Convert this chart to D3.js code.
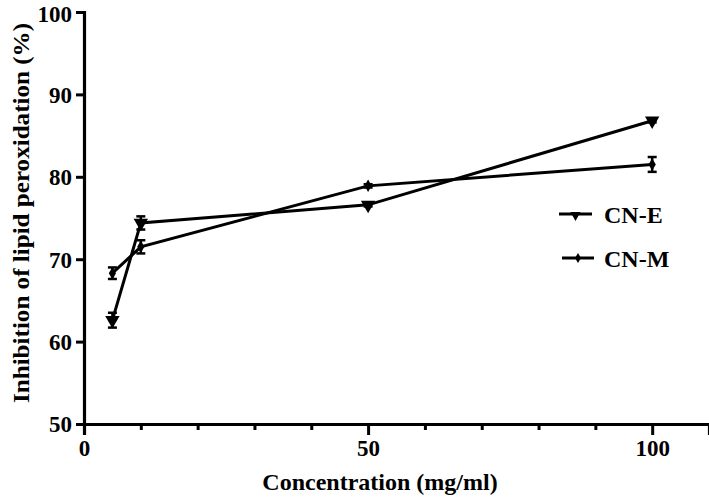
<!DOCTYPE html>
<html>
<head>
<meta charset="utf-8">
<script src="https://cdn.jsdelivr.net/npm/d3@7"></script>
<style>
  html, body { margin: 0; padding: 0; background: #fff; }
  svg { display: block; }
  text { font-family: "Liberation Serif", "Times New Roman", serif; font-weight: bold; fill: #000; }
</style>
</head>
<body>
<svg id="chart" width="709" height="498"></svg>
<script>
// ---- data ----
const concentrations = [5, 10, 50, 100];
const cnE = [62.6, 74.4, 76.6, 86.8];
const cnEErr = [0.9, 0.8, 0.2, 0.2];
const cnM = [68.3, 71.5, 78.9, 81.5];
const cnMErr = [0.7, 0.8, 0.2, 0.9];
const seriesNames = ["CN-E", "CN-M"];
const xTickLabels = [0, 50, 100];
const xMinorTicks = [10, 20, 30, 40, 60, 70, 80, 90];
const yTickLabels = [50, 60, 70, 80, 90, 100];

const svg = d3.select("#chart");
const x = d3.scaleLinear().domain([0, 110]).range([84, 709]);
const y = d3.scaleLinear().domain([50, 100]).range([424, 12]);

// axes
const gx = svg.append("g").attr("transform", `translate(0,${y(50)})`)
  .call(d3.axisBottom(x).tickValues(xTickLabels).tickSize(11).tickPadding(5).tickFormat(d3.format("d")));
const gxm = svg.append("g").attr("transform", `translate(0,${y(50)})`)
  .call(d3.axisBottom(x).tickValues(xMinorTicks).tickSize(6).tickFormat(""));
const gy = svg.append("g").attr("transform", `translate(${x(0)},0)`)
  .call(d3.axisLeft(y).tickValues(yTickLabels).tickSize(8).tickPadding(4).tickFormat(d3.format("d")));

[gx, gxm, gy].forEach(g => {
  g.select(".domain").attr("stroke", "#000").attr("stroke-width", 3.2);
  g.selectAll(".tick line").attr("stroke", "#000").attr("stroke-width", 3);
  g.selectAll(".tick text").style("font-size", "23px").attr("fill", "#000")
    .style("font-family", '"Liberation Serif", serif').style("font-weight", "bold");
});
gxm.select(".domain").remove();
gy.selectAll(".tick text").attr("dy", "0.34em");
gy.selectAll(".tick").filter(d => d === 100).select("text").attr("dy", "0.42em");

// axis titles
svg.append("text").attr("x", 380).attr("y", 490).attr("text-anchor", "middle")
  .style("font-size", "24px").text("Concentration (mg/ml)");
svg.append("text").attr("transform", "translate(29,213) rotate(-90)").attr("text-anchor", "middle")
  .style("font-size", "24px").attr("textLength", 380).attr("lengthAdjust", "spacingAndGlyphs")
  .text("Inhibition of lipid peroxidation (%)");

// series
const series = [
  { name: seriesNames[0], vals: cnE, errs: cnEErr, shape: "tri" },
  { name: seriesNames[1], vals: cnM, errs: cnMErr, shape: "dia" }
];
const line = d3.line().x(d => x(d[0])).y(d => y(d[1]));
const triSym = d3.symbol().type(d3.symbolTriangle).size(90);
const diaSym = d3.symbol().type(d3.symbolDiamond).size(45);

series.forEach(s => {
  const pts = concentrations.map((c, i) => [c, s.vals[i], s.errs[i]]);
  const g = svg.append("g");
  // error bars
  pts.forEach(p => {
    const cx = x(p[0]), y1 = y(p[1] + p[2]), y2 = y(p[1] - p[2]);
    g.append("line").attr("x1", cx).attr("x2", cx).attr("y1", y1).attr("y2", y2)
      .attr("stroke", "#000").attr("stroke-width", 2.5);
    [y1, y2].forEach(yy => g.append("line").attr("x1", cx - 4.5).attr("x2", cx + 4.5)
      .attr("y1", yy).attr("y2", yy).attr("stroke", "#000").attr("stroke-width", 2.5));
  });
  g.append("path").datum(pts).attr("d", line).attr("fill", "none")
    .attr("stroke", "#000").attr("stroke-width", 3);
  g.selectAll(".m").data(pts).join("path")
    .attr("transform", d => `translate(${x(d[0])},${y(d[1])})` + (s.shape === "tri" ? " rotate(180)" : ""))
    .attr("d", s.shape === "tri" ? triSym() : diaSym()).attr("fill", "#000");
});

// legend
const legend = [
  { name: seriesNames[0], shape: "tri", x1: 559, x2: 592, y: 214 },
  { name: seriesNames[1], shape: "dia", x1: 562, x2: 594, y: 258 }
];
legend.forEach(l => {
  svg.append("line").attr("x1", l.x1).attr("x2", l.x2).attr("y1", l.y).attr("y2", l.y)
    .attr("stroke", "#000").attr("stroke-width", 3);
  svg.append("path").attr("transform", `translate(${(l.x1 + l.x2) / 2},${l.y + (l.shape === "tri" ? 1 : 0)})` + (l.shape === "tri" ? " rotate(180)" : ""))
    .attr("d", l.shape === "tri" ? d3.symbol().type(d3.symbolTriangle).size(45)() : d3.symbol().type(d3.symbolDiamond).size(30)())
    .attr("fill", "#000");
  svg.append("text").attr("x", 604).attr("y", l.y + 9).style("font-size", "24px").text(l.name);
});
</script>
</body>
</html>
